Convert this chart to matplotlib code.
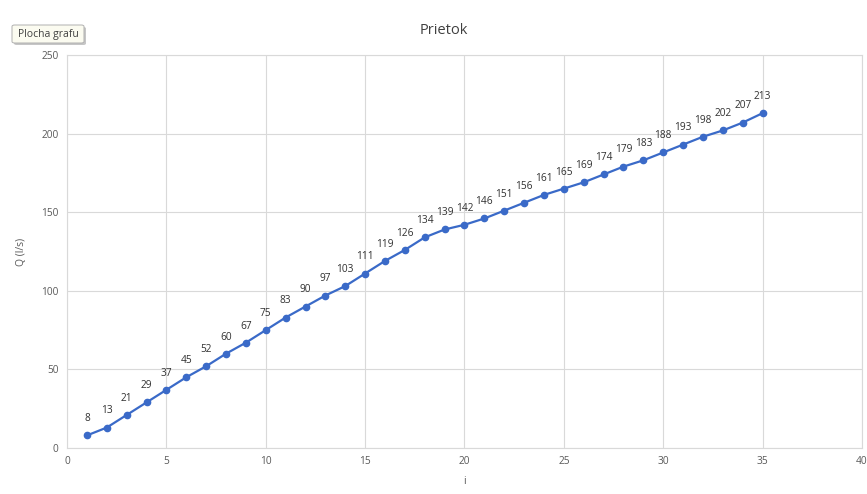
import matplotlib
matplotlib.use("Agg")
import matplotlib.pyplot as plt
from matplotlib.patches import FancyBboxPatch

plt.rcParams['font.family'] = ['Open Sans', 'DejaVu Sans']

i_vals = list(range(1, 36))
q_vals = [8, 13, 21, 29, 37, 45, 52, 60, 67, 75, 83, 90, 97, 103, 111, 119, 126, 134,
          139, 142, 146, 151, 156, 161, 165, 169, 174, 179, 183, 188, 193, 198, 202, 207, 213]
x_ticks = [0, 5, 10, 15, 20, 25, 30, 35, 40]
y_ticks = [0, 50, 100, 150, 200, 250]

fig = plt.figure(figsize=(8.67, 4.94), dpi=100)
ax = fig.add_axes([0.0773, 0.0931, 0.9169, 0.7956])

color = '#3A6AC8'
ax.plot(i_vals, q_vals, color=color, lw=1.6, marker='o', ms=4.5, zorder=3)
for x, y in zip(i_vals, q_vals):
    ax.annotate(str(y), (x, y), xytext=(0, 8), textcoords='offset points',
                ha='center', va='bottom', fontsize=7.3, color='#303030')

ax.set_xlim(0, 40)
ax.set_ylim(0, 250)
ax.set_xticks(x_ticks)
ax.set_yticks(y_ticks)
ax.grid(True, color='#D9D9D9', lw=0.8)
ax.set_axisbelow(True)
for s in ax.spines.values():
    s.set_color('#D9D9D9')
    s.set_linewidth(0.8)
ax.tick_params(length=0, labelsize=7.3, colors='#595959', pad=6)
ax.set_xlabel('i', fontsize=7.5, color='#595959', labelpad=6)
ax.set_ylabel('Q (l/s)', fontsize=7.5, color='#595959', labelpad=10)
fig.text(0.512, 0.938, 'Prietok', ha='center', va='center', fontsize=10.5, color='#404040')

# tooltip
shadow = FancyBboxPatch((14 / 867, 1 - 45 / 494), 72 / 867, 18 / 494,
                        boxstyle='round,pad=0,rounding_size=0.003', transform=fig.transFigure,
                        fc='#A0A0A0', ec='none', alpha=0.6, zorder=5)
fig.patches.append(shadow)
box = FancyBboxPatch((12 / 867, 1 - 43 / 494), 72 / 867, 18 / 494,
                     boxstyle='round,pad=0,rounding_size=0.003', transform=fig.transFigure,
                     fc='#FBFBF0', ec='#B0B0B0', lw=0.7, zorder=6)
fig.patches.append(box)
fig.text(48 / 867, 1 - 34 / 494, 'Plocha grafu', ha='center', va='center', fontsize=7.5,
         color='#404040', zorder=7)

fig.savefig('out.png', dpi=100)
